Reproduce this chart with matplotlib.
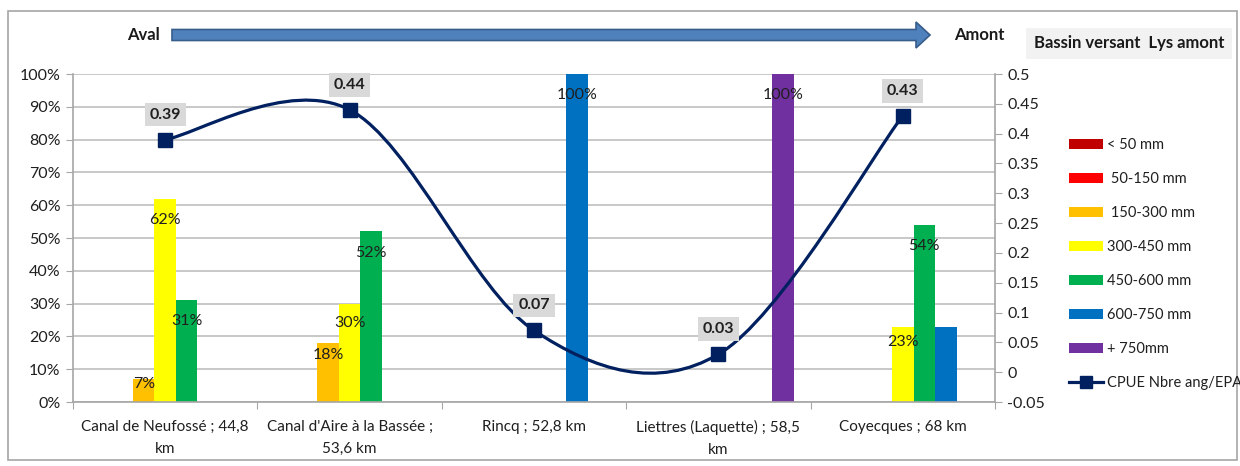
import numpy as np
import matplotlib
matplotlib.use("Agg")
import matplotlib.pyplot as plt
from matplotlib.patches import Rectangle, FancyArrow, Patch
from matplotlib.lines import Line2D
from matplotlib.path import Path
from matplotlib.patches import PathPatch

plt.rcParams['font.family'] = ['Lato', 'DejaVu Sans']

# ---- data ----
stations = ["Canal de Neufossé ; 44,8\nkm",
            "Canal d'Aire à la Bassée ;\n53,6 km",
            "Rincq ; 52,8 km",
            "Liettres (Laquette) ; 58,5\nkm",
            "Coyecques ; 68 km"]
size_classes = ["< 50 mm", " 50-150 mm", " 150-300 mm", "300-450 mm",
                "450-600 mm", "600-750 mm", "+ 750mm"]
lt50 = [0, 0, 0, 0, 0]
c50_150 = [0, 0, 0, 0, 0]
c150_300 = [0.07, 0.18, 0, 0, 0]
c300_450 = [0.62, 0.30, 0, 0, 0.23]
c450_600 = [0.31, 0.52, 0, 0, 0.54]
c600_750 = [0, 0, 1.00, 0, 0.23]
gt750 = [0, 0, 0, 1.00, 0]
# which bars carry a percentage label
label_600_750 = [False, False, True, False, False]
cpue = [0.39, 0.44, 0.07, 0.03, 0.43]
cpue_label = "CPUE Nbre ang/EPA"

series = [lt50, c50_150, c150_300, c300_450, c450_600, c600_750, gt750]
colors = ["#C00000", "#FF0000", "#FFC000", "#FFFF00", "#00B050", "#0070C0", "#7030A0"]
line_color = "#002060"
text_color = "#1F1F1F"

W, H = 1240, 466
fig = plt.figure(figsize=(W / 100, H / 100), dpi=100)

ax = fig.add_axes([73 / W, 1 - 402 / H, (995 - 73) / W, (402 - 74) / H])
ax2 = ax.twinx()

n = len(series)
x = np.arange(len(stations))
bw = 0.1166

for i, (vals, col) in enumerate(zip(series, colors)):
    off = (i - (n - 1) / 2) * bw
    ax.bar(x + off, vals, width=bw, color=col, zorder=2, linewidth=0)
    for j, v in enumerate(vals):
        if v <= 0:
            continue
        if i == 5 and not label_600_750[j]:
            continue
        ypos = max(v - 0.065, v * 0.8)
        ax.text(x[j] + off, ypos, f"{v * 100:.0f}%", ha="center", va="center",
                fontsize=11.5, color=text_color, zorder=4)

ax.set_xlim(-0.5, len(stations) - 0.5)
ax.set_ylim(0, 1.0)
ax.set_yticks(np.arange(0, 1.01, 0.1))
ax.set_yticklabels([f"{int(round(t * 100))}%" for t in np.arange(0, 1.01, 0.1)])
ax.yaxis.grid(True, color="#BFBFBF", linewidth=1.2, zorder=0)
ax.set_axisbelow(True)

# category boundaries as x ticks, labels centered between them
ax.set_xticks(np.arange(-0.5, len(stations), 1.0))
ax.set_xticklabels([])
ax.set_xticks(x, minor=True)
ax.set_xticklabels(stations, minor=True, fontsize=11, color=text_color, linespacing=1.75)
ax.tick_params(axis="x", which="minor", length=0, pad=13)
ax.tick_params(axis="x", which="major", length=5, color="#A6A6A6")
ax.tick_params(axis="y", length=5, color="#A6A6A6", labelsize=11.5, labelcolor=text_color, pad=4)

for s in ["top", "right"]:
    ax.spines[s].set_visible(False)
for s in ["left", "bottom"]:
    ax.spines[s].set_color("#A6A6A6")
    ax.spines[s].set_linewidth(1.2)

# CPUE on the secondary axis
ax2.set_ylim(-0.05, 0.5)
rt = np.round(np.arange(-0.05, 0.501, 0.05), 2)
ax2.set_yticks(rt)
ax2.set_yticklabels([f"{t:g}" for t in rt])
ax2.tick_params(axis="y", length=5, color="#A6A6A6", labelsize=11.5, labelcolor=text_color, pad=4)
for s in ["top", "left", "bottom"]:
    ax2.spines[s].set_visible(False)
ax2.spines["right"].set_color("#A6A6A6")
ax2.spines["right"].set_linewidth(1.2)

# smoothed curve through the points (Catmull-Rom as cubic Bezier segments)
px = x.astype(float)
py = np.asarray(cpue, dtype=float)
verts = [(px[0], py[0])]
codes = [Path.MOVETO]
m = len(px)
for k in range(m - 1):
    p_prev = (px[max(k - 1, 0)], py[max(k - 1, 0)])
    p0 = (px[k], py[k])
    p1 = (px[k + 1], py[k + 1])
    p_next = (px[min(k + 2, m - 1)], py[min(k + 2, m - 1)])
    c1 = (p0[0] + (p1[0] - p_prev[0]) / 6, p0[1] + (p1[1] - p_prev[1]) / 6)
    c2 = (p1[0] - (p_next[0] - p0[0]) / 6, p1[1] - (p_next[1] - p0[1]) / 6)
    verts += [c1, c2, p1]
    codes += [Path.CURVE4] * 3
ax2.add_patch(PathPatch(Path(verts, codes), fill=False, edgecolor=line_color,
                        linewidth=2.3, zorder=5, capstyle="round"))
ax2.plot(px, py, linestyle="none", marker="s", markersize=10,
         color=line_color, zorder=6)
for xi, yi in zip(px, py):
    ax2.annotate(f"{yi:.2f}", (xi, yi), xytext=(0, 18), textcoords="offset points",
                 ha="center", va="center", fontsize=11.5, fontweight="bold",
                 color=text_color, zorder=7,
                 bbox=dict(boxstyle="square,pad=0.3", fc="#D9D9D9", ec="none"))

# header: direction arrow and titles
fig.patches.append(FancyArrow(172 / W, 1 - 35 / H, (930 - 172) / W, 0,
                              width=11 / H, head_width=26 / H, head_length=14 / W,
                              length_includes_head=True, transform=fig.transFigure,
                              fc="#4F81BD", ec="#385D8A", lw=1.2))
fig.text(143 / W, 1 - 35 / H, "Aval", ha="center", va="center",
         fontsize=12, fontweight="bold", color="#1a1a1a")
fig.text(979 / W, 1 - 35 / H, "Amont", ha="center", va="center",
         fontsize=12, fontweight="bold", color="#1a1a1a")
fig.text(1129 / W, 1 - 43 / H, "Bassin versant  Lys amont", ha="center", va="center",
         fontsize=12, fontweight="bold", color="#1a1a1a",
         bbox=dict(boxstyle="square,pad=0.45", fc="#F2F2F2", ec="none"))

# legend
handles = [Patch(facecolor=c, edgecolor="none") for c in colors]
handles.append(Line2D([0], [0], color=line_color, lw=2.3, marker="s", markersize=9))
fig.legend(handles, size_classes + [cpue_label], loc="upper left",
           bbox_to_anchor=(1056 / W, 1 - 125 / H), frameon=False, fontsize=10.5,
           handlelength=2.3, handleheight=0.7, handletextpad=0.3, labelspacing=1.37,
           labelcolor=text_color)

# outer frame
fig.patches.append(Rectangle((8 / W, 6 / H), (1237 - 8) / W, (455 - 6) / H,
                             transform=fig.transFigure, fill=False,
                             ec="#A6A6A6", lw=1.2))

fig.savefig("out.png", dpi=100)
